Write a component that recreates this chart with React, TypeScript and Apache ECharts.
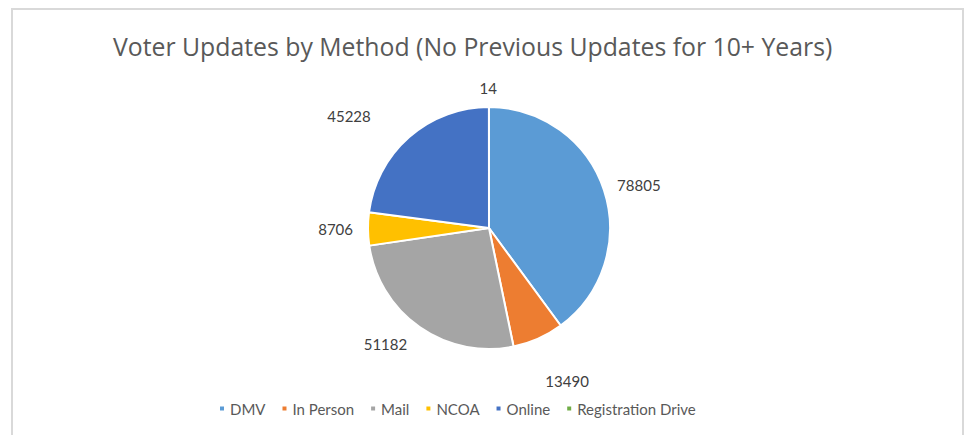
import React, { useEffect, useRef } from "react";
import * as echarts from "echarts";

const title = "Voter Updates by Method (No Previous Updates for 10+ Years)";
const categories = ["DMV", "In Person", "Mail", "NCOA", "Online", "Registration Drive"];
const values = [78805, 13490, 51182, 8706, 45228, 14];
const colors = ["#5B9BD5", "#ED7D31", "#A5A5A5", "#FFC000", "#4472C4", "#70AD47"];
// label placement tuning per slice (outside distance, horizontal run)
const labelLen = [18, 47, 20, 15, 28, 19];
const labelLen2 = [-4, -12, 1, 0, 20, -8];

export default function App() {
  const ref = useRef<HTMLDivElement>(null);
  useEffect(() => {
    const chart = echarts.init(ref.current!, null, { renderer: "svg" });
    const font = "Lato, 'Open Sans', sans-serif";
    chart.setOption({
      animation: false,
      backgroundColor: "#ffffff",
      title: {
        text: title,
        left: 108,
        top: 28,
        textStyle: { fontFamily: "'Open Sans', sans-serif", fontSize: 24.8, fontWeight: "normal", color: "#595959" },
      },
      legend: {
        data: categories,
        left: 213,
        top: 396,
        icon: "rect",
        itemWidth: 6,
        itemHeight: 6,
        itemGap: 15,
        textStyle: { fontFamily: font, fontSize: 15, color: "#595959" },
      },
      graphic: [
        {
          type: "rect",
          shape: { x: 12, y: 9, width: 951, height: 440 },
          style: { fill: "none", stroke: "#d9d9d9", lineWidth: 2 },
          silent: true,
        },
      ],
      series: [
        {
          type: "pie",
          center: [489, 228],
          radius: [0, 121],
          startAngle: 90,
          clockwise: true,
          avoidLabelOverlap: false,
          itemStyle: { borderColor: "#ffffff", borderWidth: 2 },
          label: {
            show: true,
            position: "outside",
            formatter: "{c}",
            distanceToLabelLine: 0,
            fontFamily: font,
            fontSize: 15,
            color: "#404040",
          },
          labelLine: { show: false },
          data: categories.map((name, i) => ({
            name,
            value: values[i],
            itemStyle: { color: colors[i] },
            labelLine: { show: false, length: labelLen[i], length2: labelLen2[i] },
          })),
        },
      ],
    });
    return () => chart.dispose();
  }, []);
  return (
    <div
      ref={ref}
      style={{ position: "fixed", left: 0, top: 0, width: 964, height: 435 }}
    />
  );
}
